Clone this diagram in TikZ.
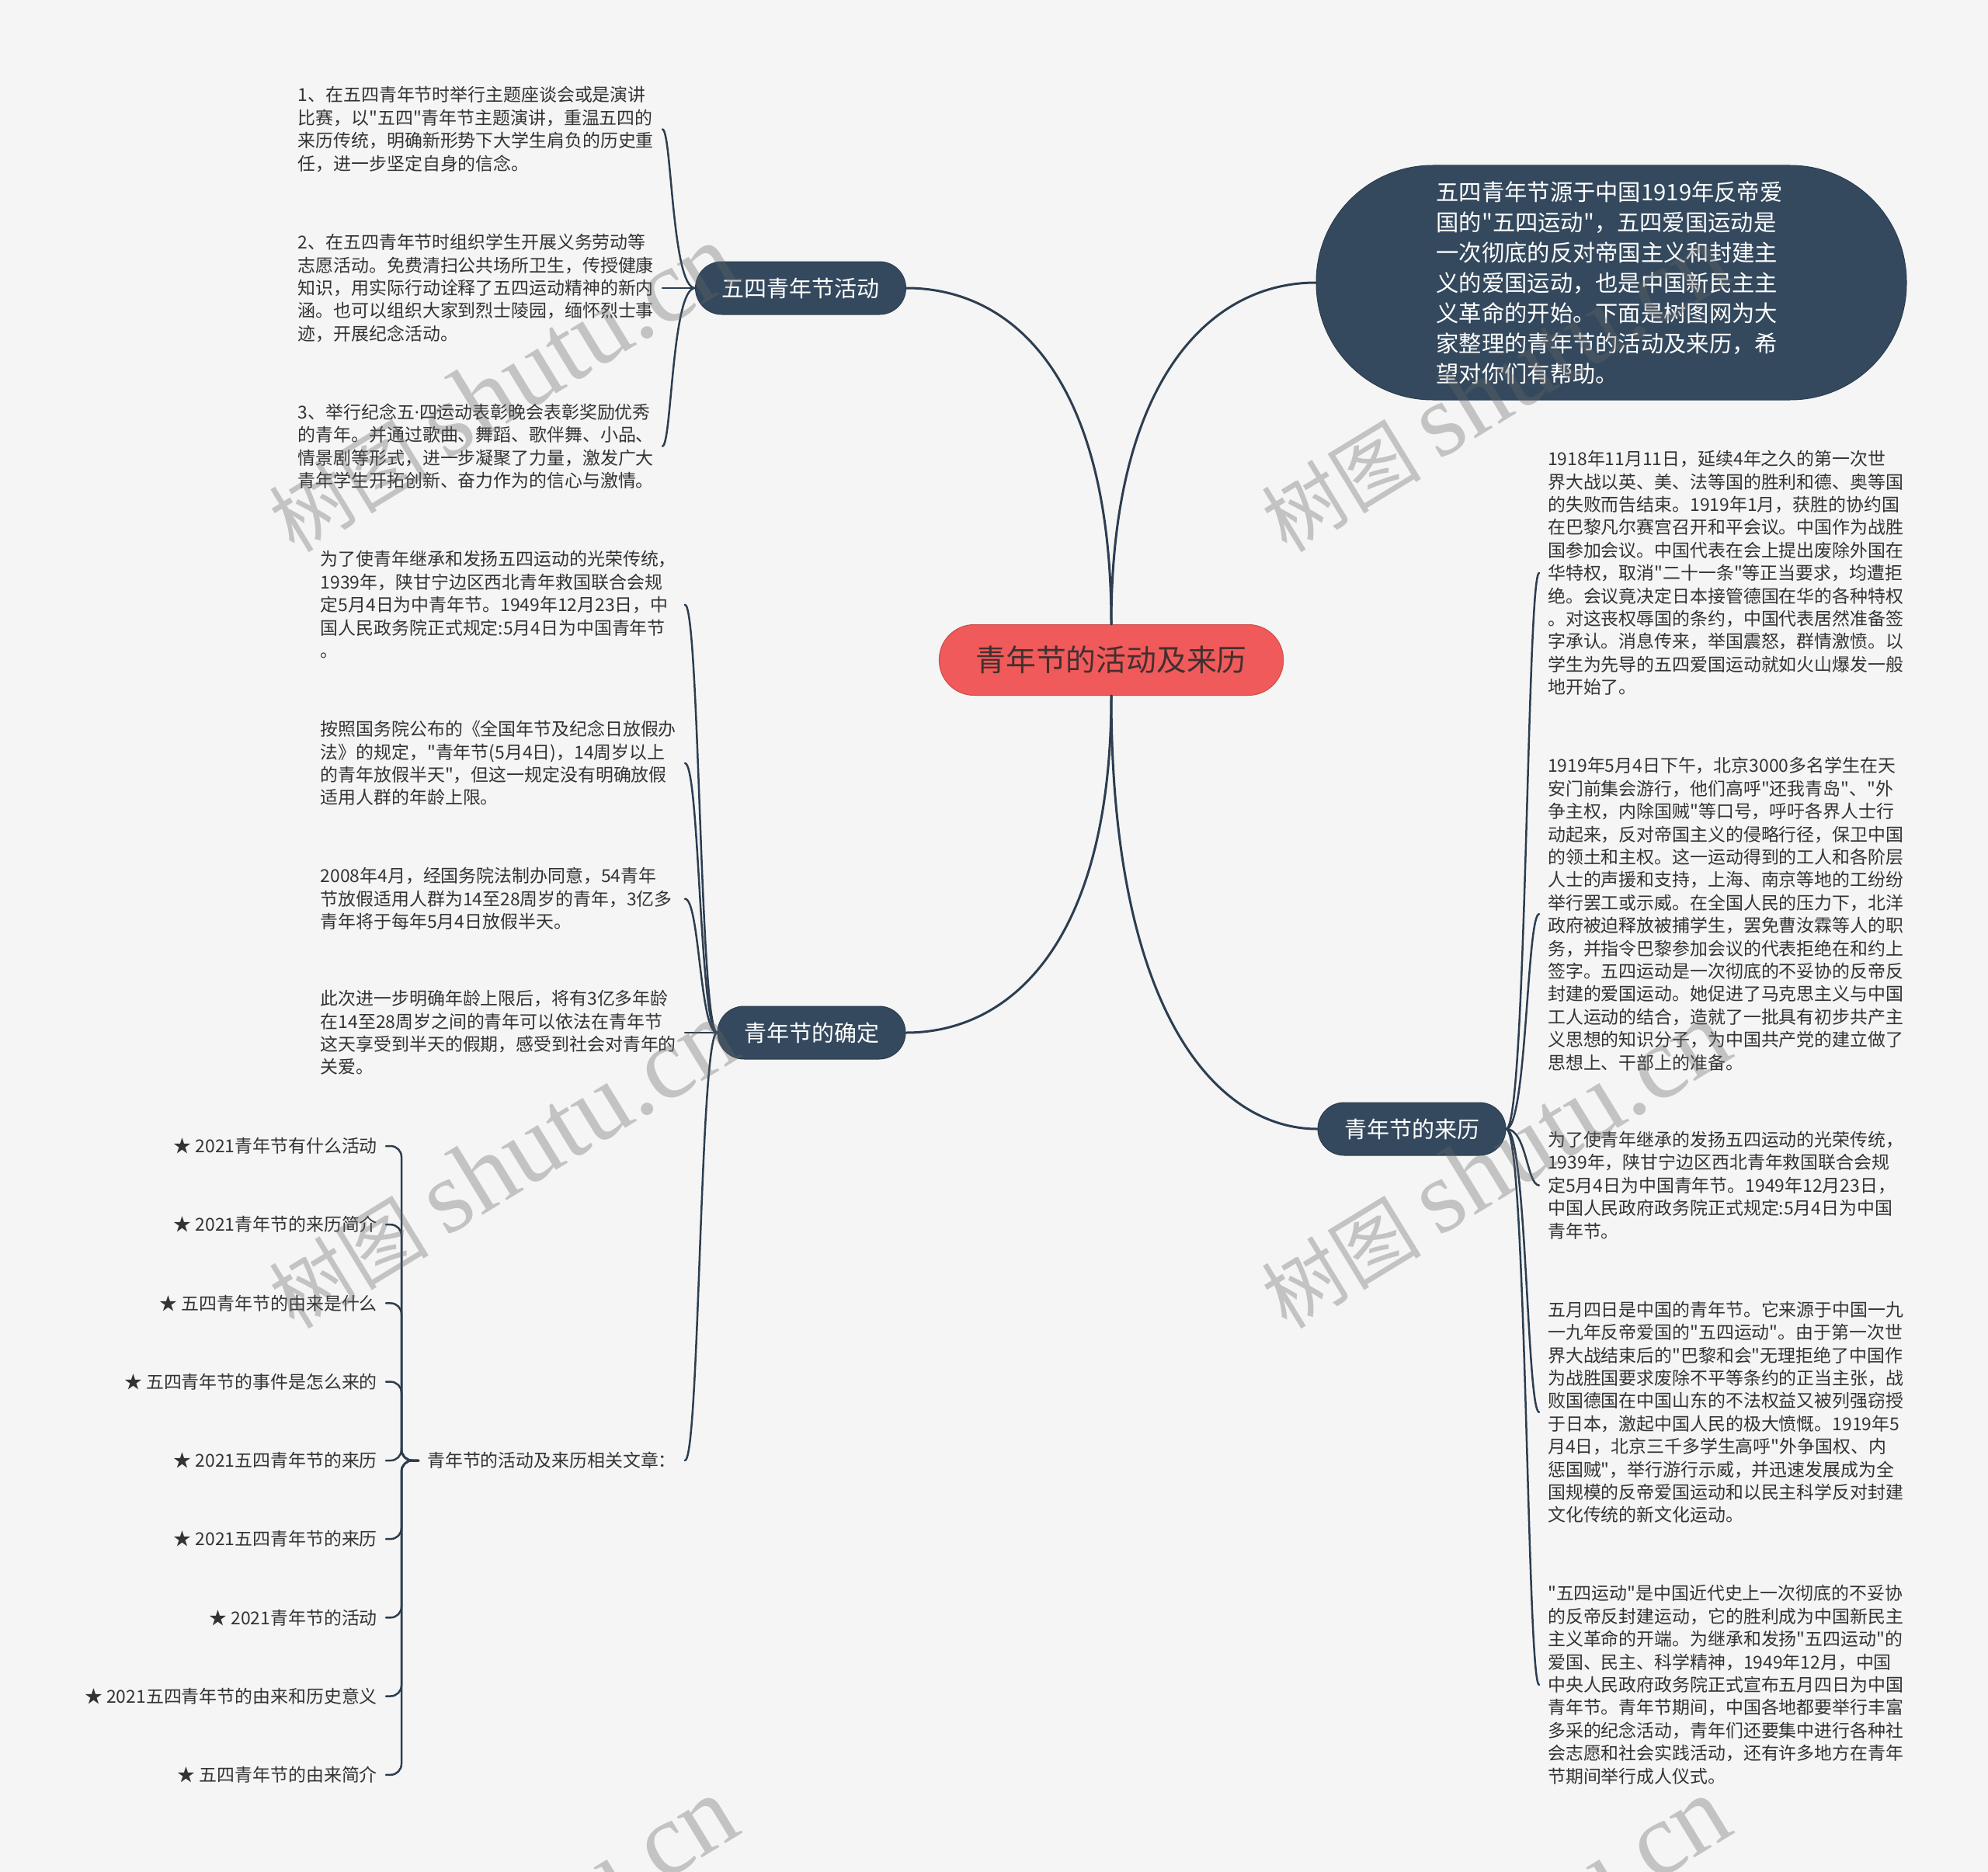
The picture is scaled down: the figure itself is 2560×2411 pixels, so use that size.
\documentclass[tikz,border=0pt]{standalone}
\usepackage{fontspec}
\setmainfont{Noto Sans CJK SC}[Ligatures=TeXOff]
\newfontfamily\wmfont{Liberation Serif}
\newfontfamily\dotfont{Noto Sans}

\definecolor{bgcol}{HTML}{F5F5F5}
\definecolor{linecol}{HTML}{2C3E50}
\definecolor{branchcol}{HTML}{34495E}
\definecolor{rootcol}{HTML}{F05A5A}
\definecolor{txtcol}{HTML}{333333}

\tikzset{
  root/.style={rectangle, rounded corners=45pt, fill=rootcol, draw=rootcol!85!black,
    line width=1pt, inner xsep=47pt, minimum height=91pt, text=txtcol!92!red,
    font=\fontsize{38.8}{44}\selectfont},
  branch/.style={rectangle, rounded corners=34pt, fill=branchcol, draw=linecol,
    line width=1pt, inner xsep=34pt, minimum height=68pt, text=white,
    font=\fontsize{29}{34}\selectfont},
  intro/.style={rectangle, rounded corners=150pt, fill=branchcol, draw=linecol,
    line width=1pt, minimum width=760pt, minimum height=302pt, text width=451pt,
    align=left, text=white, font=\fontsize{29.3}{39}\selectfont},
  leaf/.style={text width=458pt, align=left, inner xsep=11pt, inner ysep=2pt,
    text=txtcol, font=\fontsize{22.9}{29.4}\selectfont},
  item/.style={inner xsep=11pt, inner ysep=2pt, text=txtcol,
    font=\fontsize{22.9}{29.4}\selectfont},
  link/.style={draw=linecol, line width=3pt, line cap=round},
  twig/.style={draw=linecol, line width=2.5pt, line cap=round},
  wmark/.style={rotate=31.4, text=black!60, text opacity=0.35,
    font=\fontsize{103}{103}\selectfont}
}

\begin{document}
\begin{tikzpicture}[x=1pt, y=-1pt]
\fill[bgcol] (0,0) rectangle (2560,2411);
\useasboundingbox (0,0) rectangle (2560,2411);

% main topics
\node[root] (root) at (1431,850) {青年节的活动及来历};
\node[branch] (act) at (1031,371) {五四青年节活动};
\node[branch] (fix) at (1045,1330) {青年节的确定};
\node[branch] (orig) at (1818,1454) {青年节的来历};
\node[intro] (intro) at (2075,364) {五四青年节源于中国1919年反帝爱\\
  国的"五四运动"，五四爱国运动是\\
  一次彻底的反对帝国主义和封建主\\
  义的爱国运动，也是中国新民主主\\
  义革命的开始。下面是树图网为大\\
  家整理的青年节的活动及来历，希\\
  望对你们有帮助。};

% activities
\node[leaf, anchor=east] (a1) at (853,166.5) {1、在五四青年节时举行主题座谈会或是演讲\\
  比赛，以"五四"青年节主题演讲，重温五四的\\
  来历传统，明确新形势下大学生肩负的历史重\\
  任，进一步坚定自身的信念。};
\node[leaf, anchor=east] (a2) at (853,371) {2、在五四青年节时组织学生开展义务劳动等\\
  志愿活动。免费清扫公共场所卫生，传授健康\\
  知识，用实际行动诠释了五四运动精神的新内\\
  涵。也可以组织大家到烈士陵园，缅怀烈士事\\
  迹，开展纪念活动。};
\node[leaf, anchor=east] (a3) at (853,574.7) {3、举行纪念五{\dotfont ·}四运动表彰晚会表彰奖励优秀\\
  的青年。并通过歌曲、舞蹈、歌伴舞、小品、\\
  情景剧等形式，进一步凝聚了力量，激发广大\\
  青年学生开拓创新、奋力作为的信心与激情。};

% how the day was fixed
\node[leaf, anchor=east] (b1) at (882,778.8) {为了使青年继承和发扬五四运动的光荣传统，\\
  1939年，陕甘宁边区西北青年救国联合会规\\
  定5月4日为中青年节。1949年12月23日，中\\
  国人民政务院正式规定:5月4日为中国青年节\\
  。};
\node[leaf, anchor=east] (b2) at (882,982.9) {按照国务院公布的《全国年节及纪念日放假办\\
  法》的规定，"青年节(5月4日)，14周岁以上\\
  的青年放假半天"，但这一规定没有明确放假\\
  适用人群的年龄上限。};
\node[leaf, anchor=east] (b3) at (882,1157.6) {2008年4月，经国务院法制办同意，54青年\\
  节放假适用人群为14至28周岁的青年，3亿多\\
  青年将于每年5月4日放假半天。};
\node[leaf, anchor=east] (b4) at (882,1330) {此次进一步明确年龄上限后，将有3亿多年龄\\
  在14至28周岁之间的青年可以依法在青年节\\
  这天享受到半天的假期，感受到社会对青年的\\
  关爱。};
\node[item, anchor=east] (rel) at (882,1881) {青年节的活动及来历相关文章：};

% related articles
\node[item, anchor=east] (s1) at (497,1476) {★ 2021青年节有什么活动};
\node[item, anchor=east] (s2) at (497,1577.2) {★ 2021青年节的来历简介};
\node[item, anchor=east] (s3) at (497,1678.4) {★ 五四青年节的由来是什么};
\node[item, anchor=east] (s4) at (497,1779.6) {★ 五四青年节的事件是怎么来的};
\node[item, anchor=east] (s5) at (497,1881) {★ 2021五四青年节的来历};
\node[item, anchor=east] (s6) at (497,1982.1) {★ 2021五四青年节的来历};
\node[item, anchor=east] (s7) at (497,2083.3) {★ 2021青年节的活动};
\node[item, anchor=east] (s8) at (497,2184.5) {★ 2021五四青年节的由来和历史意义};
\node[item, anchor=east] (s9) at (497,2285.8) {★ 五四青年节的由来简介};

% origins
\node[leaf, anchor=west] (c1) at (1982,738) {1918年11月11日，延续4年之久的第一次世\\
  界大战以英、美、法等国的胜利和德、奥等国\\
  的失败而告结束。1919年1月，获胜的协约国\\
  在巴黎凡尔赛宫召开和平会议。中国作为战胜\\
  国参加会议。中国代表在会上提出废除外国在\\
  华特权，取消"二十一条"等正当要求，均遭拒\\
  绝。会议竟决定日本接管德国在华的各种特权\\
  。对这丧权辱国的条约，中国代表居然准备签\\
  字承认。消息传来，举国震怒，群情激愤。以\\
  学生为先导的五四爱国运动就如火山爆发一般\\
  地开始了。};
\node[leaf, anchor=west] (c2) at (1982,1177.2) {1919年5月4日下午，北京3000多名学生在天\\
  安门前集会游行，他们高呼"还我青岛"、"外\\
  争主权，内除国贼"等口号，呼吁各界人士行\\
  动起来，反对帝国主义的侵略行径，保卫中国\\
  的领土和主权。这一运动得到的工人和各阶层\\
  人士的声援和支持，上海、南京等地的工纷纷\\
  举行罢工或示威。在全国人民的压力下，北洋\\
  政府被迫释放被捕学生，罢免曹汝霖等人的职\\
  务，并指令巴黎参加会议的代表拒绝在和约上\\
  签字。五四运动是一次彻底的不妥协的反帝反\\
  封建的爱国运动。她促进了马克思主义与中国\\
  工人运动的结合，造就了一批具有初步共产主\\
  义思想的知识分子，为中国共产党的建立做了\\
  思想上、干部上的准备。};
\node[leaf, anchor=west] (c3) at (1982,1526.6) {为了使青年继承的发扬五四运动的光荣传统，\\
  1939年，陕甘宁边区西北青年救国联合会规\\
  定5月4日为中国青年节。1949年12月23日，\\
  中国人民政府政务院正式规定:5月4日为中国\\
  青年节。};
\node[leaf, anchor=west] (c4) at (1982,1818.8) {五月四日是中国的青年节。它来源于中国一九\\
  一九年反帝爱国的"五四运动"。由于第一次世\\
  界大战结束后的"巴黎和会"无理拒绝了中国作\\
  为战胜国要求废除不平等条约的正当主张，战\\
  败国德国在中国山东的不法权益又被列强窃授\\
  于日本，激起中国人民的极大愤慨。1919年5\\
  月4日，北京三千多学生高呼"外争国权、内\\
  惩国贼"，举行游行示威，并迅速发展成为全\\
  国规模的反帝爱国运动和以民主科学反对封建\\
  文化传统的新文化运动。};
\node[leaf, anchor=west] (c5) at (1982,2169.9) {"五四运动"是中国近代史上一次彻底的不妥协\\
  的反帝反封建运动，它的胜利成为中国新民主\\
  主义革命的开端。为继承和发扬"五四运动"的\\
  爱国、民主、科学精神，1949年12月，中国\\
  中央人民政府政务院正式宣布五月四日为中国\\
  青年节。青年节期间，中国各地都要举行丰富\\
  多采的纪念活动，青年们还要集中进行各种社\\
  会志愿和社会实践活动，还有许多地方在青年\\
  节期间举行成人仪式。};

% bracket columns
\coordinate (colA) at (865,0);
\coordinate (colB) at (901,0);
\coordinate (colS) at (517,0);
\coordinate (colC) at (1966,0);

% root to topics
\draw[link] (root.north) .. controls +(0,-315) and +(139,0) .. (act.east);
\draw[link] (root.north) .. controls +(0,-315) and +(-136,0) .. (intro.west);
\draw[link] (root.south) .. controls +(0,312) and +(139,0) .. (fix.east);
\draw[link] (root.south) .. controls +(0,410) and +(-129,0) .. (orig.west);

% topics to leaves
\foreach \leaf in {a1,a2,a3}
  \draw[twig] (act.west) .. controls (act.west -| colA) and (\leaf.east -| colA) .. (\leaf.east);
\foreach \leaf in {b1,b2,b3,b4,rel}
  \draw[twig] (fix.west) .. controls (fix.west -| colB) and (\leaf.east -| colB) .. (\leaf.east);
\foreach \leaf in {s1,s2,s3,s4,s5,s6,s7,s8,s9}
  \draw[twig, rounded corners=14pt] (rel.west) -- (rel.west -| colS) -- (colS |- \leaf.east) -- (\leaf.east);
\foreach \leaf in {c1,c2,c3,c4,c5}
  \draw[twig] (orig.east) .. controls (orig.east -| colC) and (\leaf.west -| colC) .. (\leaf.west);

% watermark
\begin{scope}
  \clip (0,0) rectangle (2560,2411);
  \foreach \wx/\wy in {647/500, 1925/500, 647/1500, 1925/1500, 647/2500, 1925/2500}
    \node[wmark] (wm-\wx-\wy) at (\wx,\wy) {树图 {\wmfont\fontsize{134}{134}\selectfont shutu.cn}};
\end{scope}
\end{tikzpicture}
\end{document}
